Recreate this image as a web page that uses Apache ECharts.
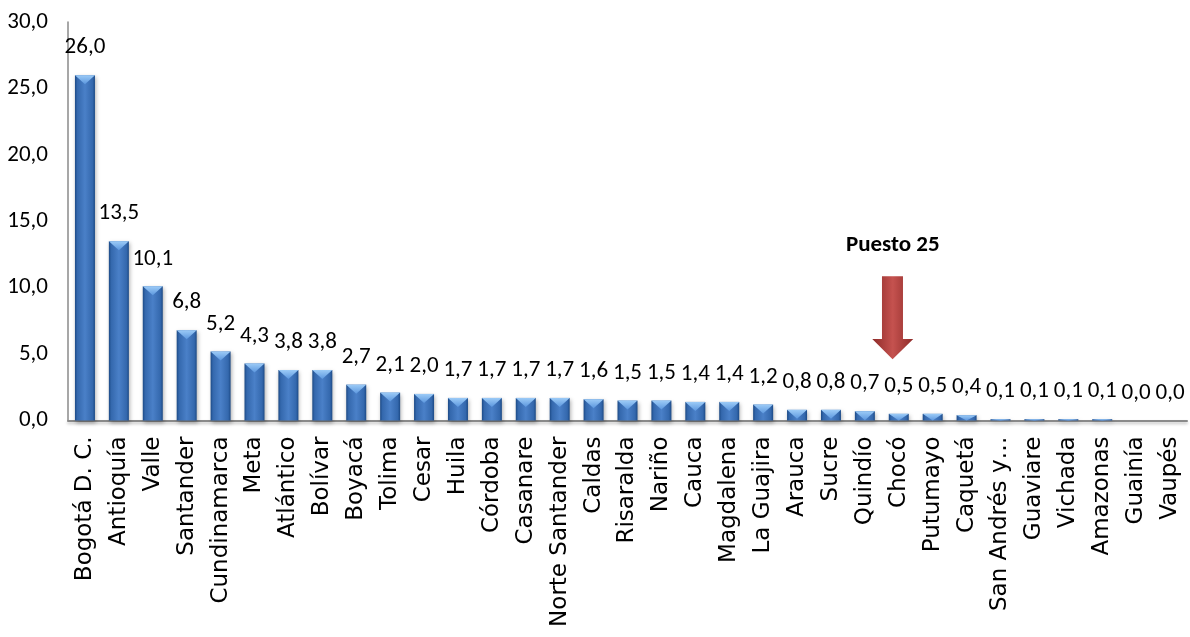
<!DOCTYPE html>
<html>
<head>
<meta charset="utf-8">
<script src="https://cdn.jsdelivr.net/npm/echarts@6/dist/echarts.min.js"></script>
<style>
html,body{margin:0;padding:0;background:#fff;}
#c{width:1190px;height:637px;}
</style>
</head>
<body>
<div id="c"></div>
<script>
const categories = ['Bogotá D. C.','Antioquía','Valle','Santander','Cundinamarca','Meta','Atlántico','Bolívar','Boyacá','Tolima','Cesar','Huila','Córdoba','Casanare','Norte Santander','Caldas','Risaralda','Nariño','Cauca','Magdalena','La Guajira','Arauca','Sucre','Quindío','Chocó','Putumayo','Caquetá','San Andrés y…','Guaviare','Vichada','Amazonas','Guainía','Vaupés'];
const values = [26.0,13.5,10.1,6.8,5.2,4.3,3.8,3.8,2.7,2.1,2.0,1.7,1.7,1.7,1.7,1.6,1.5,1.5,1.4,1.4,1.2,0.8,0.8,0.7,0.5,0.5,0.4,0.1,0.1,0.1,0.1,0.0,0.0];
const yTicks = [0,5,10,15,20,25,30];
const highlightCategory = 'Chocó';
const highlightText = 'Puesto 25';

const fmt = v => Number(v).toFixed(1).replace('.', ',');
const chart = echarts.init(document.getElementById('c'));
const numFont = 'Carlito, Lato, sans-serif';

const barGrad = new echarts.graphic.LinearGradient(0,0,1,0,[
  {offset:0,color:'#1c4a86'},{offset:0.12,color:'#3468ad'},
  {offset:0.5,color:'#4a80c8'},{offset:0.88,color:'#3468ad'},{offset:1,color:'#1c4a86'}]);
const arrowGrad = new echarts.graphic.LinearGradient(0,0,1,0,[
  {offset:0,color:'#8e2b29'},{offset:0.5,color:'#c5524f'},{offset:1,color:'#8e2b29'}]);
const hiIdx = categories.indexOf(highlightCategory);

const option = {
  animation:false,
  grid:{left:68,right:3,top:22,bottom:216.5,containLabel:false},
  xAxis:{
    type:'category',data:categories,boundaryGap:true,
    axisLine:{show:true,lineStyle:{color:'#8a8a8a',width:2,shadowColor:'rgba(0,0,0,0.25)',shadowBlur:3,shadowOffsetY:2}},
    axisTick:{show:false},
    axisLabel:{interval:0,rotate:90,margin:16,fontFamily:'DejaVu Sans',fontSize:23,color:'#000'}
  },
  yAxis:{
    type:'value',min:yTicks[0],max:yTicks[yTicks.length-1],interval:yTicks[1]-yTicks[0],
    axisLine:{show:true,lineStyle:{color:'#8a8a8a',width:1.5}},
    axisTick:{show:false},splitLine:{show:false},
    axisLabel:{formatter:fmt,margin:20,fontFamily:numFont,fontSize:23,color:'#000'}
  },
  series:[{
    type:'bar',data:values,barWidth:20,z:2,
    itemStyle:{color:barGrad,shadowColor:'rgba(0,0,0,0.3)',shadowBlur:4,shadowOffsetX:1,shadowOffsetY:2},
    label:{show:true,position:'top',distance:16,formatter:p=>fmt(p.value),fontFamily:numFont,fontSize:23,color:'#000'},
    markPoint:{
      data:[{
        coord:[highlightCategory, values[hiIdx]],
        symbol:'path://M9.7,0 L30.7,0 L30.7,62.3 L41,62.3 L20.3,82.6 L0,62.3 L9.7,62.3 Z',
        symbolSize:[41,83],symbolKeepAspect:false,symbolOffset:[-6,-96],
        itemStyle:{color:arrowGrad},
        label:{show:true,position:'top',distance:20,formatter:highlightText,fontFamily:numFont,fontWeight:'bold',fontSize:23,color:'#000'}
      }]
    }
  }]
};
chart.setOption(option);

const ppu = chart.convertToPixel({yAxisIndex:0},0) - chart.convertToPixel({yAxisIndex:0},1);
chart.setOption({series:[option.series[0],{
  type:'pictorialBar',data:values,z:3,silent:true,
  symbol:'path://M0,0 L10,0 L5,4.5 Z',symbolPosition:'end',symbolKeepAspect:false,
  symbolSize:v=>[20,Math.min(9,Math.max(0,v*ppu))],
  itemStyle:{color:new echarts.graphic.LinearGradient(0,0,0,1,[{offset:0,color:'#9ccbf7'},{offset:1,color:'#5c97de'}])}
}]});
</script>
</body>
</html>
